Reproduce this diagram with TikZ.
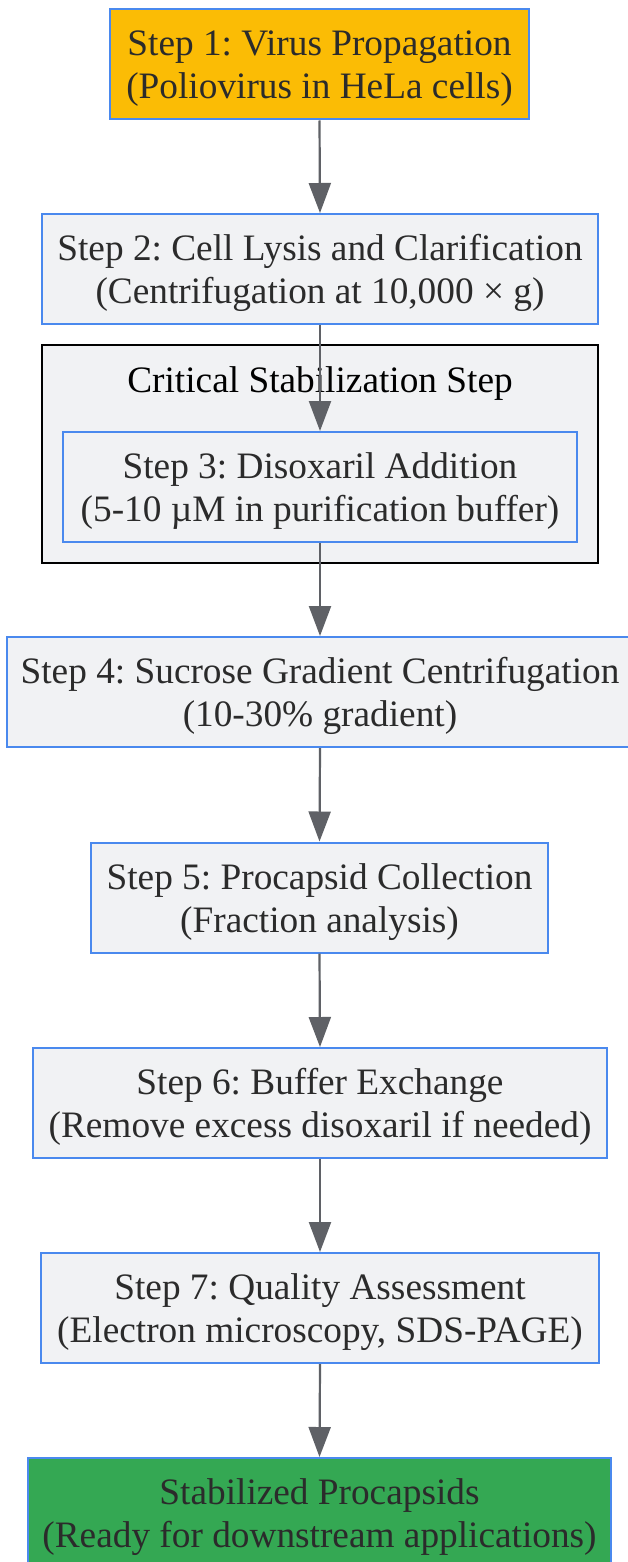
\documentclass[tikz,border=0pt]{standalone}
\usepackage{fontspec}
\setmainfont{Liberation Serif}
\usetikzlibrary{arrows.meta}
\definecolor{bblue}{HTML}{4A89EE}
\definecolor{boxgray}{HTML}{F1F2F4}
\definecolor{yel}{HTML}{FBBC05}
\definecolor{grn}{HTML}{34A853}
\definecolor{txt}{HTML}{2B2B2B}
\definecolor{arr}{HTML}{5F6166}
\newcommand\boxfont{\fontsize{37.3}{43}\selectfont\frenchspacing}
\newcommand\topstrut{\rule{0pt}{35pt}}
\newcommand\botstrut{\rule[-9pt]{0pt}{9pt}}
\newcommand\twolines[2]{\topstrut#1\\#2\botstrut}
\tikzset{
  stepbox/.style={draw=bblue, line width=2pt, fill=boxgray, minimum height=110pt, inner sep=0pt, align=center, text=txt, font=\boxfont},
  conn/.style={draw=arr, line width=2.2pt, -{Triangle[length=30pt,width=22pt]}},
  cluster/.style={draw=black, line width=2pt, fill=boxgray},
}
\begin{document}
\begin{tikzpicture}[x=1pt,y=-1pt]
\useasboundingbox (0,0) rectangle (628,1562);
\fill[white] (0,0) rectangle (628,1562);
% cluster
\draw[cluster] (42,345) rectangle (598,563);
\node[font=\boxfont, text=black, anchor=base, inner sep=0pt] (ctitle) at (320,392) {Critical Stabilization Step};
% nodes
\node[stepbox, fill=yel, minimum width=419pt] (s1) at (319.5,64.5) {\twolines{Step 1: Virus Propagation}{(Poliovirus in HeLa cells)}};
\node[stepbox, minimum width=556pt] (s2) at (320,269) {\twolines{Step 2: Cell Lysis and Clarification}{(Centrifugation at 10,000 × g)}};
\node[stepbox, minimum width=514pt] (s3) at (320,487) {\twolines{Step 3: Disoxaril Addition}{(5-10 µM in purification buffer)}};
\node[stepbox, minimum width=626pt] (s4) at (320,692) {\twolines{Step 4: Sucrose Gradient Centrifugation}{(10-30\% gradient)}};
\node[stepbox, minimum width=457pt] (s5) at (319.5,897.5) {\twolines{Step 5: Procapsid Collection}{(Fraction analysis)}};
\node[stepbox, minimum width=574pt] (s6) at (320,1103) {\twolines{Step 6: Buffer Exchange}{(Remove excess disoxaril if needed)}};
\node[stepbox, minimum width=558pt] (s7) at (320,1308) {\twolines{Step 7: Quality Assessment}{(Electron microscopy, SDS-PAGE)}};
\node[stepbox, fill=grn, minimum width=583pt] (s8) at (319.5,1513) {\twolines{Stabilized Procapsids}{(Ready for downstream applications)}};
% connectors
\draw[conn] (s1.south) -- (s2.north);
\draw[conn] (s2.south) -- (s3.north);
\draw[conn] (s3.south) -- (s4.north);
\draw[conn] (s4.south) -- (s5.north);
\draw[conn] (s5.south) -- (s6.north);
\draw[conn] (s6.south) -- (s7.north);
\draw[conn] (s7.south) -- (s8.north);
\end{tikzpicture}
\end{document}
